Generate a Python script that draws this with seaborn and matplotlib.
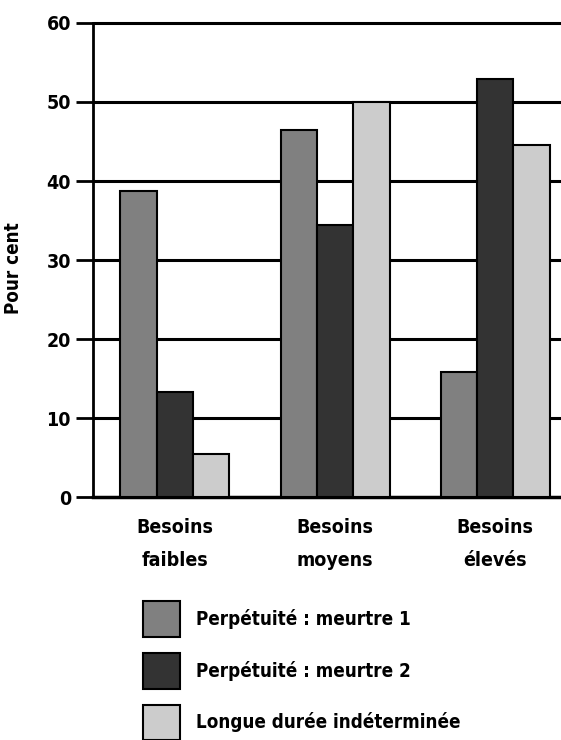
import pandas as pd
import numpy as np
import matplotlib.pyplot as plt
import seaborn as sns

# values (per cent)
categories = ['Besoins\nfaibles', 'Besoins\nmoyens', 'Besoins\nélevés']
series = ['Perpétuité : meurtre 1', 'Perpétuité : meurtre 2', 'Longue durée indéterminée']
meurtre1 = [38.8, 46.5, 15.8]
meurtre2 = [13.3, 34.5, 52.9]
longue = [5.5, 50.0, 44.5]
colors = ['#808080', '#333333', '#cccccc']

data = pd.DataFrame({
    'categorie': categories * 3,
    'serie': [s for s in series for _ in categories],
    'valeur': meurtre1 + meurtre2 + longue,
})

sns.set_style('white')
plt.rcParams['font.family'] = ['DejaVu Sans']
plt.rcParams['font.stretch'] = 'condensed'
plt.rcParams['font.weight'] = 'bold'
plt.rcParams['text.color'] = 'black'
plt.rcParams['axes.labelcolor'] = 'black'
plt.rcParams['xtick.color'] = 'black'
plt.rcParams['ytick.color'] = 'black'

fig = plt.figure(figsize=(5.61, 7.40), dpi=100)
ax = fig.add_axes([0.166, 0.328, 0.834, 0.641])

sns.barplot(data=data, x='categorie', y='valeur', hue='serie', palette=colors,
            width=0.68, edgecolor='black', linewidth=1.5, saturation=1, ax=ax, zorder=3)

ax.set_ylim(0, 60)
ax.set_xlim(-0.51, 2.41)
ax.set_yticks(range(0, 61, 10))
for y in range(10, 61, 10):
    ax.axhline(y, color='black', linewidth=2.2, zorder=1, clip_on=False)

ax.set_xlabel('')
ax.set_ylabel('Pour cent', fontsize=13.5, fontweight='bold')
ax.yaxis.set_label_coords(-0.15, 0.483)
ax.tick_params(axis='y', direction='out', length=12, width=2, labelsize=14, pad=4, left=True)
ax.tick_params(axis='x', length=0, labelsize=14, pad=15)
for lab in ax.get_xticklabels():
    lab.set_linespacing(1.95)

for s in ['top', 'right']:
    ax.spines[s].set_visible(False)
ax.spines['left'].set_linewidth(2)
ax.spines['bottom'].set_linewidth(2.5)
ax.spines['left'].set_color('black')
ax.spines['bottom'].set_color('black')

handles, labels = ax.get_legend_handles_labels()
ax.get_legend().remove()
fig.legend(handles, labels, loc='upper left', bbox_to_anchor=(0.238, 0.2),
           frameon=False, fontsize=13.5, handlelength=2.0, handleheight=2.55,
           labelspacing=0.85, handletextpad=0.85, borderpad=0)

fig.savefig('out.png', dpi=100)
